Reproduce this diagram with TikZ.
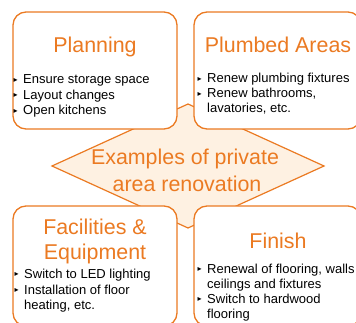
\documentclass[tikz,border=0pt]{standalone}
\usepackage{fontspec}
\setmainfont{Liberation Sans}
\newfontfamily\symfont{DejaVu Sans}
\definecolor{accent}{HTML}{EB7A22}
\definecolor{paleorange}{HTML}{FEF1E2}
\newcommand\bul{\makebox[9.5pt][l]{\raisebox{1.6pt}{\symfont\fontsize{8}{8}\selectfont ▸}}}
\tikzset{
  card/.style={draw=accent, line width=1.3pt, fill=white, rounded corners=13pt},
  hub/.style={draw=accent, line width=1.2pt, fill=paleorange, line join=miter},
  heading/.style={anchor=base, inner sep=0pt, text=accent, font=\fontsize{21.4}{25}\selectfont},
  entry/.style={anchor=base west, inner sep=0pt, font=\fontsize{13}{15}\selectfont}
}
\begin{document}
\begin{tikzpicture}[x=1pt,y=-1pt]
\useasboundingbox (0,0) rectangle (356,323);
\clip (0,0) rectangle (356,323);

% central diamond behind the four cards
\coordinate (dl) at (52,166);
\coordinate (dt) at (188,104);
\coordinate (dr) at (324,166);
\coordinate (db) at (188,228);
\draw[hub] (dl) -- (dt) -- (dr) -- (db) -- cycle;
\node[heading] (hubA) at (185,165) {Examples of private};
\node[heading] (hubB) at (187,192) {area renovation};

% cards
\draw[card] (13,12) rectangle (177,129);
\draw[card] (194,12) rectangle (361,129);
\draw[card] (13,206) rectangle (177,326);
\draw[card] (194,206) rectangle (361,326);

% Planning
\node[heading] (planT) at (95,53) {Planning};
\node[entry] (plan1) at (13.5,84) {\bul Ensure storage space};
\node[entry] (plan2) at (13.5,99.5) {\bul Layout changes};
\node[entry] (plan3) at (13.5,115) {\bul Open kitchens};

% Plumbed Areas
\node[heading] (plumT) at (278,53) {Plumbed Areas};
\node[entry] (plum1) at (197.5,83) {\bul Renew plumbing fixtures};
\node[entry] (plum2) at (197.5,98) {\bul Renew bathrooms,};
\node[entry] (plum3) at (207,113) {lavatories, etc.};

% Facilities & Equipment
\node[heading] (facT1) at (95,235) {Facilities \&};
\node[heading] (facT2) at (95,259) {Equipment};
\node[entry] (fac1) at (14.5,278) {\bul Switch to LED lighting};
\node[entry] (fac2) at (14.5,294) {\bul Installation of floor};
\node[entry] (fac3) at (24,309) {heating, etc.};

% Finish
\node[heading] (finT) at (278,248) {Finish};
\node[entry] (fin1) at (197.5,273) {\bul Renewal of flooring, walls};
\node[entry] (fin2) at (207,288) {ceilings and fixtures};
\node[entry] (fin3) at (197.5,303) {\bul Switch to hardwood};
\node[entry] (fin4) at (207,318) {flooring};
\end{tikzpicture}
\end{document}
